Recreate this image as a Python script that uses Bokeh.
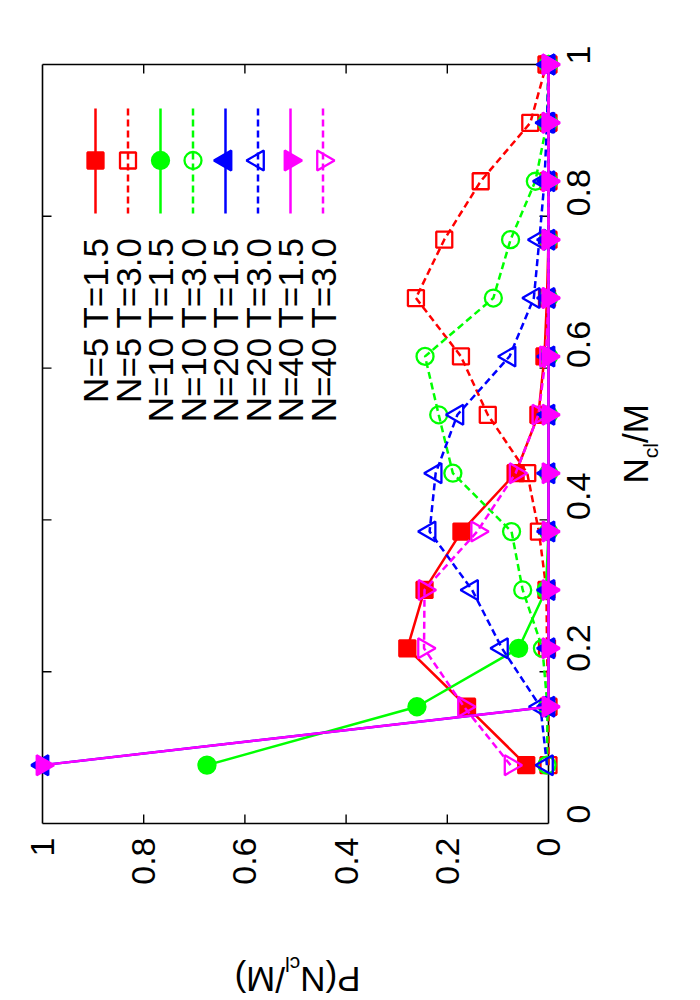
import math
from bokeh.plotting import figure
from bokeh.models import Range1d, FixedTicker, NumeralTickFormatter, Label
from bokeh.core.properties import value
from bokeh.embed import file_html
from bokeh.resources import INLINE

# ---------------- data ----------------
ncl_frac = [0.0769, 0.1538, 0.2308, 0.3077, 0.3846, 0.4615, 0.5385,
            0.6154, 0.6923, 0.7692, 0.8462, 0.9231, 1.0]

p_n5_t15 = [0.044, 0.161, 0.279, 0.245, 0.172, 0.065, 0.020, 0.008, 0.003, 0.0, 0.0, 0.0, 0.0]
p_n5_t30 = [0.0, 0.0, 0.003, 0.004, 0.019, 0.042, 0.120, 0.173, 0.262, 0.206, 0.134, 0.036, 0.004]
p_n10_t15 = [0.675, 0.260, 0.059, 0.005, 0.0, 0.0, 0.0, 0.0, 0.0, 0.0, 0.0, 0.0, 0.0]
p_n10_t30 = [0.003, 0.002, 0.012, 0.051, 0.073, 0.189, 0.217, 0.244, 0.109, 0.075, 0.026, 0.003, 0.0]
p_n20_t15 = [1.0, 0.0, 0.0, 0.0, 0.0, 0.0, 0.0, 0.0, 0.0, 0.0, 0.0, 0.0, 0.0]
p_n20_t30 = [0.003, 0.016, 0.092, 0.151, 0.235, 0.223, 0.180, 0.077, 0.029, 0.018, 0.008, 0.003, 0.0]
p_n40_t15 = [1.0, 0.0, 0.0, 0.0, 0.0, 0.0, 0.0, 0.0, 0.0, 0.0, 0.0, 0.0, 0.0]
p_n40_t30 = [0.075, 0.167, 0.246, 0.245, 0.141, 0.065, 0.020, 0.005, 0.0, 0.0, 0.0, 0.0, 0.0]

series_labels = ["N=5 T=1.5", "N=5 T=3.0", "N=10 T=1.5", "N=10 T=3.0",
                 "N=20 T=1.5", "N=20 T=3.0", "N=40 T=1.5", "N=40 T=3.0"]
series_values = [p_n5_t15, p_n5_t30, p_n10_t15, p_n10_t30,
                 p_n20_t15, p_n20_t30, p_n40_t15, p_n40_t30]

tick_values = [0, 0.2, 0.4, 0.6, 0.8, 1]

# ---------------- style ----------------
RED, GREEN, BLUE, MAGENTA = "#ff0000", "#00ff00", "#0000ff", "#ff00ff"
series_colors = [RED, RED, GREEN, GREEN, BLUE, BLUE, MAGENTA, MAGENTA]
series_markers = ["square", "square", "circle", "circle",
                  "triangle", "triangle", "inverted_triangle", "inverted_triangle"]
series_filled = [True, False, True, False, True, False, True, False]
series_dashed = [False, True, False, True, False, True, False, True]
marker_sizes = {"square": 16, "circle": 17, "triangle": 20, "inverted_triangle": 20}
FONT = "Liberation Sans"
LW = 2.5
MLW = 2.3
DASH = "7 4"

# pixel geometry of the (rotated) box on the page
BOX_L, BOX_R, BOX_T, BOX_B = 42.0, 548.0, 64.0, 823.0
PXU = BOX_R - BOX_L        # px per unit of P   (horizontal, reversed)
PYU = BOX_B - BOX_T        # px per unit of Ncl/M (vertical)
PAD = 12.0
padx, pady = PAD / PXU, PAD / PYU
W, H = 700, 1000
FW, FH = int(PXU + 2 * PAD), int(PYU + 2 * PAD)
ML, MT = int(BOX_L - PAD), int(BOX_T - PAD)


def dx(px):
    return (BOX_R - px) / PXU


def dy(py):
    return (BOX_B - py) / PYU


p = figure(width=W, height=H,
           x_range=Range1d(1 + padx, -padx), y_range=Range1d(-pady, 1 + pady),
           x_axis_location="below", y_axis_location="right",
           output_backend="svg", toolbar_location=None,
           min_border_left=ML, min_border_right=W - ML - FW,
           min_border_top=MT, min_border_bottom=H - MT - FH)
p.grid.visible = False
p.outline_line_color = None
p.background_fill_color = "white"
p.border_fill_color = "white"

for ax in (p.xaxis[0], p.yaxis[0]):
    ax.ticker = FixedTicker(ticks=tick_values)
    ax.formatter = NumeralTickFormatter(format="0.[0]")
    ax.axis_line_color = None
    ax.major_tick_line_color = None
    ax.minor_tick_line_color = None
    ax.major_tick_in = 0
    ax.major_tick_out = 0
    ax.major_label_text_font = FONT
    ax.major_label_text_font_size = "34px"
    ax.major_label_text_color = "black"
    ax.major_label_orientation = math.pi / 2
p.xaxis[0].major_label_standoff = 2
p.yaxis[0].major_label_standoff = 18

# ---------------- frame and inward mirrored ticks ----------------
lo, hi = tick_values[0], tick_values[-1]
p.segment(x0=[hi, lo, lo, hi], y0=[lo, lo, hi, hi],
          x1=[lo, lo, hi, hi], y1=[lo, hi, hi, lo],
          line_color="black", line_width=1.6)
TL = 9.0
tlx, tly = TL / PXU, TL / PYU
inner = tick_values[1:-1]
p.segment(x0=inner, y0=[lo] * len(inner), x1=inner, y1=[lo + tly] * len(inner),
          line_color="black", line_width=1.4)
p.segment(x0=inner, y0=[hi] * len(inner), x1=inner, y1=[hi - tly] * len(inner),
          line_color="black", line_width=1.4)
p.segment(x0=[hi] * len(inner), y0=inner, x1=[hi - tlx] * len(inner), y1=inner,
          line_color="black", line_width=1.4)
p.segment(x0=[lo] * len(inner), y0=inner, x1=[lo + tlx] * len(inner), y1=inner,
          line_color="black", line_width=1.4)

# ---------------- series ----------------
for vals, col, mk, filled, dashed in zip(series_values, series_colors, series_markers,
                                         series_filled, series_dashed):
    p.line(x=vals, y=ncl_frac, line_color=col, line_width=LW,
           line_dash=DASH if dashed else "solid")
    p.scatter(x=vals, y=ncl_frac, marker=mk, size=marker_sizes[mk],
              angle=math.pi / 2,
              fill_color=col if filled else None,
              line_color=col, line_width=MLW)

# ---------------- legend (rotated, drawn by hand) ----------------
LEG_X0, LEG_DX = 95.0, 32.5
for i, (lab, col, mk, filled, dashed) in enumerate(zip(series_labels, series_colors,
                                                       series_markers, series_filled,
                                                       series_dashed)):
    cx = LEG_X0 + i * LEG_DX
    p.line(x=[dx(cx), dx(cx)], y=[dy(108), dy(213)], line_color=col, line_width=LW,
           line_dash=DASH if dashed else "solid")
    p.scatter(x=[dx(cx)], y=[dy(160)], marker=mk, size=marker_sizes[mk],
              angle=math.pi / 2, fill_color=col if filled else None,
              line_color=col, line_width=MLW)
    p.text(x=[dx(cx)], y=[dy(237)], text=[lab], angle=math.pi / 2,
           text_align="right", text_baseline="middle",
           text_font=value(FONT), text_font_size="35px", text_color="black")

# ---------------- axis titles with subscripts ----------------
# (labels live in side panels so that they are not clipped to the frame;
#  they are spread over the panels so that no panel grows past its border)
MAIN, SUB = 35, 21
W_N, W_CL, W_PN = 0.722 * MAIN, 0.722 * SUB, 1.722 * MAIN
SUB_SHIFT = 15.0   # centre of subscript moved "down" in the text frame


def lab(x, y, text, size, angle, side):
    p.add_layout(Label(x=x, y=y, text=text, angle=angle, text_align="left",
                       text_baseline="middle", text_font=FONT,
                       text_font_size=f"{size}px", text_color="black"), side)


# right title: N_cl/M, reading bottom-to-top (caps centred at x = 634.5)
y0, xc = 483.0, 634.5
lab(dx(xc), dy(y0), "N", MAIN, math.pi / 2, "above")
lab(dx(xc + SUB_SHIFT), dy(y0 - W_N), "cl", SUB, math.pi / 2, "left")
lab(dx(xc), dy(y0 - W_N - W_CL), "/M", MAIN, math.pi / 2, "right")

# bottom title: P(N_cl/M), upside down
x0, yc = 360.0, 979.0
lab(dx(x0), dy(yc), "P(N", MAIN, math.pi, "below")
lab(dx(x0 - W_PN), dy(yc - SUB_SHIFT), "cl", SUB, math.pi, "below")
lab(dx(x0 - W_PN - W_CL), dy(yc), "/M)", MAIN, math.pi, "below")

open("out.html", "w").write(file_html(p, INLINE))
